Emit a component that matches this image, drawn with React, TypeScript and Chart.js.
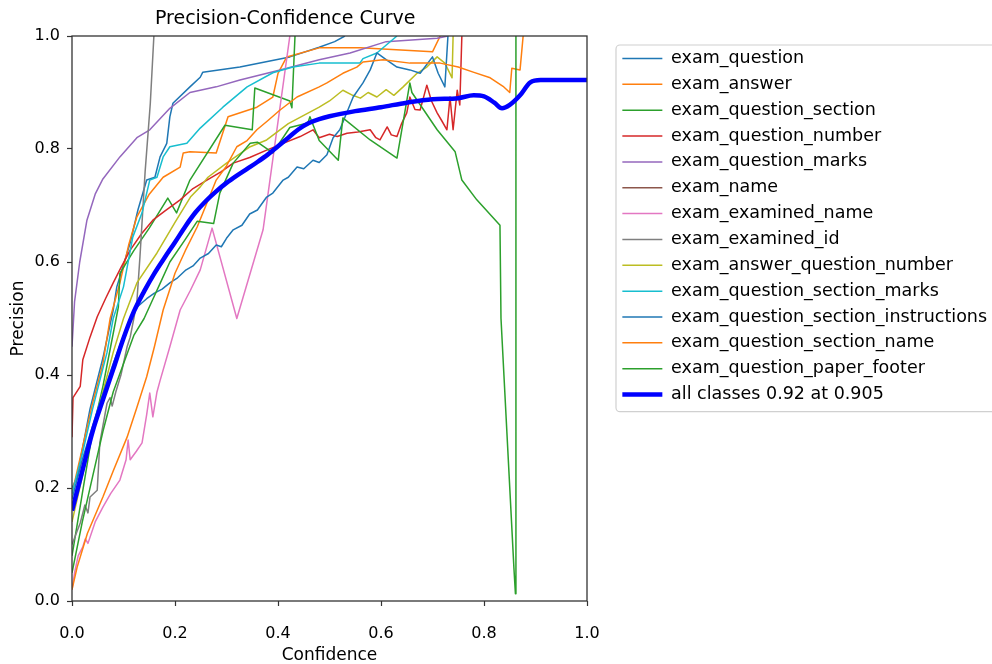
import React, { useEffect, useRef } from 'react';
import { Chart, registerables } from 'chart.js';

Chart.register(...registerables);

const FONT = 'DejaVu Sans';

// Legend labels (matplotlib order) and tab10 colours
const seriesNames = [
  'exam_question',
  'exam_answer',
  'exam_question_section',
  'exam_question_number',
  'exam_question_marks',
  'exam_name',
  'exam_examined_name',
  'exam_examined_id',
  'exam_answer_question_number',
  'exam_question_section_marks',
  'exam_question_section_instructions',
  'exam_question_section_name',
  'exam_question_paper_footer',
];
const seriesColors = [
  '#1f77b4', '#ff7f0e', '#2ca02c', '#d62728', '#9467bd', '#8c564b', '#e377c2',
  '#7f7f7f', '#bcbd22', '#17becf', '#1f77b4', '#ff7f0e', '#2ca02c',
];
const allClassesLabel = 'all classes 0.92 at 0.905';

// [confidence, precision]
const examQuestion: [number, number][] = [
  [0, 0.2], [0.01, 0.22], [0.035, 0.34], [0.06, 0.43], [0.08, 0.515], [0.087, 0.556],
  [0.097, 0.586], [0.113, 0.634], [0.128, 0.692], [0.145, 0.745], [0.161, 0.75],
  [0.171, 0.786], [0.184, 0.81], [0.19, 0.857], [0.196, 0.881], [0.229, 0.91],
  [0.249, 0.927], [0.254, 0.936], [0.326, 0.945], [0.423, 0.963], [0.48, 0.98],
  [0.51, 0.99], [0.53, 1.0],
];
const examAnswer: [number, number][] = [
  [0, 0.19], [0.02, 0.27], [0.04, 0.35], [0.06, 0.42], [0.074, 0.5], [0.093, 0.563],
  [0.11, 0.63], [0.126, 0.68], [0.15, 0.72], [0.177, 0.75], [0.21, 0.768], [0.216, 0.793],
  [0.229, 0.795], [0.28, 0.793], [0.303, 0.857], [0.359, 0.874], [0.39, 0.892],
  [0.4, 0.934], [0.417, 0.963], [0.48, 0.979], [0.56, 0.979], [0.7, 0.972], [0.715, 1.0],
];
const examQuestionSection: [number, number][] = [
  [0, 0.08], [0.02, 0.19], [0.04, 0.3], [0.06, 0.38], [0.075, 0.45], [0.09, 0.52],
  [0.093, 0.58], [0.12, 0.62], [0.15, 0.66], [0.186, 0.713], [0.203, 0.687],
  [0.229, 0.745], [0.297, 0.842], [0.35, 0.834], [0.355, 0.908], [0.423, 0.885],
  [0.427, 0.873], [0.433, 1.0],
];
const examQuestionNumber: [number, number][] = [
  [0, 0.29], [0.002, 0.36], [0.016, 0.38], [0.021, 0.427], [0.035, 0.467], [0.049, 0.503],
  [0.065, 0.535], [0.08, 0.563], [0.095, 0.59], [0.113, 0.621], [0.135, 0.65],
  [0.157, 0.674], [0.18, 0.69], [0.21, 0.71], [0.235, 0.73], [0.262, 0.745], [0.29, 0.76],
  [0.313, 0.775], [0.345, 0.785], [0.378, 0.798], [0.41, 0.81], [0.443, 0.822],
  [0.468, 0.834], [0.48, 0.82], [0.5, 0.826], [0.515, 0.822], [0.534, 0.828],
  [0.555, 0.83], [0.579, 0.834], [0.59, 0.82], [0.598, 0.816], [0.612, 0.839],
  [0.62, 0.825], [0.631, 0.822], [0.64, 0.845], [0.65, 0.864], [0.656, 0.892],
  [0.666, 0.87], [0.676, 0.869], [0.689, 0.913], [0.698, 0.885], [0.709, 0.864],
  [0.718, 0.85], [0.728, 0.834], [0.734, 0.892], [0.74, 0.834], [0.748, 0.904],
  [0.753, 0.878], [0.757, 1.0],
];
const examQuestionMarks: [number, number][] = [
  [0, 0.45], [0.005, 0.53], [0.015, 0.6], [0.029, 0.674], [0.045, 0.72], [0.06, 0.747],
  [0.093, 0.786], [0.126, 0.82], [0.151, 0.834], [0.19, 0.872], [0.229, 0.9],
  [0.28, 0.91], [0.326, 0.922], [0.404, 0.94], [0.48, 0.958], [0.54, 0.97],
  [0.61, 0.99], [0.709, 0.996], [0.73, 1.0],
];
const examName: [number, number][] = [];
const examExaminedName: [number, number][] = [
  [0, 0.02], [0.005, 0.05], [0.012, 0.08], [0.021, 0.096], [0.026, 0.11], [0.031, 0.102],
  [0.045, 0.14], [0.06, 0.166], [0.075, 0.19], [0.093, 0.214], [0.105, 0.25],
  [0.109, 0.285], [0.113, 0.25], [0.125, 0.265], [0.136, 0.28], [0.145, 0.33],
  [0.151, 0.368], [0.157, 0.326], [0.165, 0.37], [0.171, 0.39], [0.19, 0.45],
  [0.21, 0.515], [0.23, 0.55], [0.249, 0.586], [0.272, 0.66], [0.32, 0.5],
  [0.371, 0.657], [0.423, 1.0],
];
const examExaminedId: [number, number][] = [
  [0, 0.1], [0.016, 0.138], [0.025, 0.17], [0.031, 0.156], [0.035, 0.184], [0.049, 0.196],
  [0.054, 0.28], [0.068, 0.35], [0.074, 0.36], [0.078, 0.345], [0.085, 0.37],
  [0.095, 0.4], [0.107, 0.45], [0.113, 0.467], [0.12, 0.5], [0.126, 0.53],
  [0.132, 0.61], [0.142, 0.76], [0.152, 0.88], [0.159, 1.0],
];
const examAnswerQuestionNumber: [number, number][] = [
  [0, 0.14], [0.02, 0.22], [0.04, 0.3], [0.06, 0.37], [0.08, 0.44], [0.1, 0.5],
  [0.126, 0.563], [0.165, 0.616], [0.2, 0.67], [0.23, 0.715], [0.249, 0.733],
  [0.264, 0.75], [0.3, 0.775], [0.346, 0.804], [0.378, 0.816], [0.42, 0.845],
  [0.48, 0.874], [0.5, 0.885], [0.526, 0.904], [0.545, 0.895], [0.56, 0.89],
  [0.575, 0.9], [0.592, 0.892], [0.61, 0.905], [0.625, 0.895], [0.643, 0.91],
  [0.67, 0.934], [0.689, 0.945], [0.709, 0.963], [0.724, 0.952], [0.738, 0.926],
  [0.74, 1.0],
];
const examQuestionSectionMarks: [number, number][] = [
  [0, 0.19], [0.02, 0.26], [0.04, 0.34], [0.068, 0.44], [0.08, 0.5], [0.1, 0.556],
  [0.118, 0.644], [0.136, 0.687], [0.151, 0.745], [0.165, 0.75], [0.177, 0.786],
  [0.19, 0.804], [0.223, 0.81], [0.249, 0.837], [0.293, 0.874], [0.34, 0.91],
  [0.39, 0.935], [0.429, 0.945], [0.48, 0.952], [0.559, 0.952], [0.565, 0.96],
  [0.592, 0.97], [0.631, 1.0],
];
const examQuestionSectionInstructions: [number, number][] = [
  [0, 0.18], [0.02, 0.25], [0.05, 0.34], [0.08, 0.42], [0.1, 0.47], [0.115, 0.5],
  [0.126, 0.52], [0.145, 0.535], [0.16, 0.545], [0.175, 0.552], [0.19, 0.563],
  [0.205, 0.572], [0.22, 0.585], [0.235, 0.593], [0.249, 0.607], [0.265, 0.615],
  [0.28, 0.63], [0.29, 0.627], [0.3, 0.642], [0.313, 0.657], [0.33, 0.665],
  [0.345, 0.685], [0.36, 0.692], [0.378, 0.715], [0.39, 0.722], [0.41, 0.745],
  [0.42, 0.75], [0.437, 0.768], [0.45, 0.765], [0.468, 0.78], [0.48, 0.776],
  [0.495, 0.79], [0.507, 0.82], [0.52, 0.834], [0.546, 0.892], [0.565, 0.917],
  [0.579, 0.94], [0.592, 0.97], [0.612, 0.957], [0.631, 0.945], [0.656, 0.94],
  [0.676, 0.934], [0.7, 0.963], [0.711, 0.934], [0.724, 0.91], [0.73, 1.0],
];
const examQuestionSectionName: [number, number][] = [
  [0, 0.02], [0.01, 0.06], [0.03, 0.12], [0.06, 0.184], [0.08, 0.23], [0.107, 0.29],
  [0.125, 0.34], [0.145, 0.397], [0.16, 0.45], [0.177, 0.515], [0.2, 0.58],
  [0.22, 0.62], [0.243, 0.662], [0.26, 0.7], [0.28, 0.745], [0.3, 0.77], [0.32, 0.804],
  [0.34, 0.815], [0.359, 0.834], [0.38, 0.85], [0.404, 0.869], [0.437, 0.892],
  [0.48, 0.91], [0.495, 0.917], [0.526, 0.934], [0.553, 0.945], [0.565, 0.954],
  [0.604, 0.958], [0.656, 0.952], [0.715, 0.952], [0.75, 0.945], [0.779, 0.936],
  [0.812, 0.926], [0.837, 0.911], [0.85, 0.9], [0.854, 0.943], [0.87, 0.94],
  [0.876, 1.0],
];
const examQuestionPaperFooter: [number, number][] = [
  [0, 0.05], [0.02, 0.14], [0.04, 0.22], [0.06, 0.3], [0.08, 0.37], [0.1, 0.42],
  [0.12, 0.47], [0.14, 0.5], [0.155, 0.53], [0.17, 0.56], [0.19, 0.6], [0.22, 0.64],
  [0.243, 0.672], [0.275, 0.668], [0.287, 0.722], [0.313, 0.775], [0.346, 0.81],
  [0.36, 0.812], [0.39, 0.793], [0.423, 0.838], [0.458, 0.846], [0.462, 0.857],
  [0.48, 0.815], [0.517, 0.78], [0.526, 0.855], [0.579, 0.816], [0.631, 0.784],
  [0.656, 0.917], [0.66, 0.9], [0.709, 0.834], [0.744, 0.795], [0.757, 0.745],
  [0.786, 0.71], [0.831, 0.665], [0.833, 0.5], [0.858, 0.06], [0.861, 0.013],
  [0.862, 1.0],
];
const allClasses: [number, number][] = [
  [0, 0.16], [0.02, 0.23], [0.04, 0.3], [0.06, 0.356], [0.08, 0.41], [0.1, 0.465],
  [0.12, 0.512], [0.14, 0.548], [0.16, 0.58], [0.18, 0.608], [0.2, 0.635],
  [0.22, 0.663], [0.24, 0.688], [0.26, 0.708], [0.28, 0.725], [0.3, 0.74],
  [0.32, 0.753], [0.34, 0.765], [0.36, 0.777], [0.38, 0.79], [0.4, 0.805],
  [0.42, 0.82], [0.44, 0.835], [0.46, 0.846], [0.48, 0.853], [0.5, 0.858],
  [0.55, 0.867], [0.6, 0.874], [0.65, 0.882], [0.7, 0.888], [0.75, 0.89],
  [0.78, 0.895], [0.8, 0.893], [0.82, 0.882], [0.835, 0.872], [0.85, 0.878],
  [0.87, 0.895], [0.89, 0.918], [0.91, 0.922], [1.0, 0.922],
];

const seriesData = [
  examQuestion, examAnswer, examQuestionSection, examQuestionNumber, examQuestionMarks,
  examName, examExaminedName, examExaminedId, examAnswerQuestionNumber,
  examQuestionSectionMarks, examQuestionSectionInstructions, examQuestionSectionName,
  examQuestionPaperFooter,
];

const titleText = 'Precision-Confidence Curve';
const xTitle = 'Confidence';
const yTitle = 'Precision';

export default function App() {
  const ref = useRef<HTMLCanvasElement | null>(null);

  useEffect(() => {
    if (!ref.current) return;
    Chart.defaults.font.family = FONT;

    const mk = (label: string, pts: [number, number][], color: string, width: number, order: number, smooth: boolean) => ({
      label,
      data: pts.map(([x, y]) => ({ x, y })),
      borderColor: color,
      backgroundColor: color,
      pointBorderColor: color,
      pointBackgroundColor: color,
      borderWidth: width,
      pointBorderWidth: width,
      pointRadius: 0,
      pointHoverRadius: 0,
      pointHitRadius: 0,
      tension: smooth ? 0.4 : 0,
      cubicInterpolationMode: smooth ? ('monotone' as const) : ('default' as const),
      borderJoinStyle: 'round' as const,
      fill: false,
      order,
    });

    const datasets: any[] = seriesNames.map((n, i) => mk(n, seriesData[i], seriesColors[i], 1.5, 20 - i, false));
    datasets.push(mk(allClassesLabel, allClasses, '#0000ff', 4.5, 0, true));

    const framePlugin = {
      id: 'frame',
      afterDatasetsDraw(chart: any) {
        const { ctx, chartArea } = chart;
        ctx.save();
        ctx.strokeStyle = '#333';
        ctx.lineWidth = 1.3;
        ctx.strokeRect(chartArea.left, chartArea.top, chartArea.right - chartArea.left, chartArea.bottom - chartArea.top);
        ctx.restore();
      },
    };

    const titlePlugin = {
      id: 'mplTitle',
      afterDraw(chart: any) {
        const { ctx, chartArea } = chart;
        ctx.save();
        ctx.font = `19px "${FONT}"`;
        ctx.fillStyle = '#000';
        ctx.textAlign = 'center';
        ctx.textBaseline = 'middle';
        ctx.fillText(titleText, chartArea.left + 0.414 * (chartArea.right - chartArea.left), chartArea.top - 17);
        ctx.restore();
      },
    };

    const legendFramePlugin = {
      id: 'legendFrame',
      afterDraw(chart: any) {
        const lg = chart.legend;
        if (!lg || !lg.legendHitBoxes || !lg.legendHitBoxes.length) return;
        const hb = lg.legendHitBoxes;
        const first = hb[0];
        const last = hb[hb.length - 1];
        const x0 = lg.left + 2;
        const y0 = first.top - 4.75;
        const x1 = chart.width + 6;
        const y1 = last.top + last.height + 8.4;
        const { ctx } = chart;
        ctx.save();
        ctx.strokeStyle = '#d0d0d0';
        ctx.lineWidth = 1.2;
        ctx.beginPath();
        (ctx as any).roundRect(x0, y0, x1 - x0, y1 - y0, 4);
        ctx.stroke();
        ctx.restore();
      },
    };

    const chart = new Chart(ref.current, {
      type: 'line',
      data: { datasets },
      options: {
        responsive: false,
        animation: false,
        layout: { padding: { top: 36, left: 0, right: 0, bottom: 0 } },
        plugins: {
          tooltip: { enabled: false },
          title: { display: false },
          legend: {
            display: true,
            position: 'right',
            align: 'start',
            maxWidth: 378,
            title: { display: true, text: ' ', font: { size: 5.4, lineHeight: 1 }, padding: 0 },
            labels: {
              usePointStyle: true,
              pointStyle: 'line',
              pointStyleWidth: 40,
              padding: 8.35,
              color: '#000',
              font: { family: FONT, size: 17.5 },
              sort: (a: any, b: any) => a.datasetIndex - b.datasetIndex,
            },
          },
        },
        scales: {
          x: {
            type: 'linear',
            min: 0,
            max: 1,
            ticks: {
              stepSize: 0.2,
              autoSkip: false,
              maxRotation: 0,
              padding: 18,
              color: '#000',
              font: { family: FONT, size: 16 },
              callback: (v: any) => Number(v).toFixed(1),
            },
            grid: { display: true, drawOnChartArea: false, drawTicks: true, tickLength: 5, tickColor: '#333', tickWidth: 1.2 },
            border: { display: false },
            title: { display: true, text: xTitle, color: '#000', font: { family: FONT, size: 17, lineHeight: 1 }, padding: { top: 0, bottom: 0 } },
            afterFit: (s: any) => { s.height = 63; },
          },
          y: {
            type: 'linear',
            min: 0,
            max: 1,
            ticks: {
              stepSize: 0.2,
              autoSkip: false,
              padding: 7,
              color: '#000',
              font: { family: FONT, size: 16 },
              callback: (v: any) => Number(v).toFixed(1),
            },
            grid: { display: true, drawOnChartArea: false, drawTicks: true, tickLength: 5, tickColor: '#333', tickWidth: 1.2 },
            border: { display: false },
            title: { display: true, text: yTitle, color: '#000', font: { family: FONT, size: 17 }, padding: { top: 8, bottom: 0 } },
            afterFit: (s: any) => { s.width = 72; },
          },
          gap: {
            type: 'linear',
            position: 'right',
            display: true,
            grid: { display: false },
            ticks: { display: false },
            border: { display: false },
            afterFit: (s: any) => { s.width = 27; },
          },
        },
      } as any,
      plugins: [framePlugin, titlePlugin, legendFramePlugin],
    });

    return () => chart.destroy();
  }, []);

  return (
    <div style={{ position: 'fixed', left: 0, top: 0, width: 992, height: 664, background: '#fff' }}>
      <canvas ref={ref} width={992} height={664} style={{ display: 'block' }} />
    </div>
  );
}
